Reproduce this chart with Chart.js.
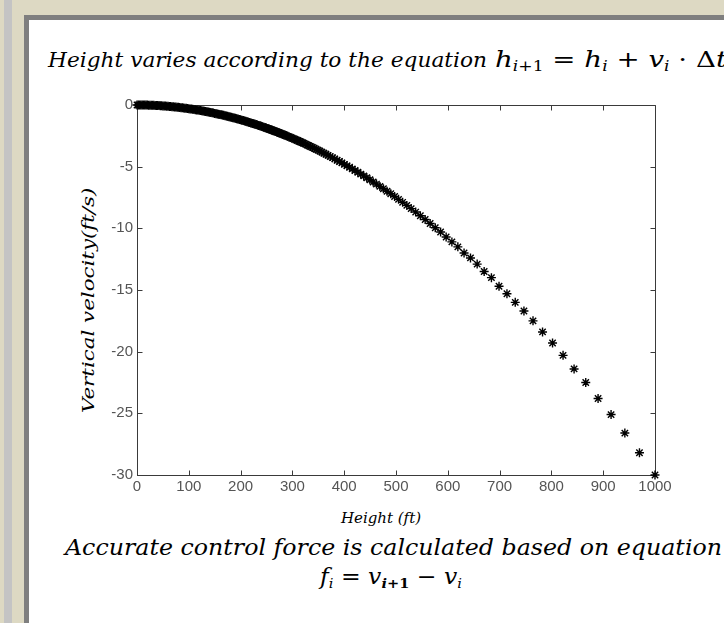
<!DOCTYPE html>
<html>
<head>
<meta charset="utf-8">
<script src="https://cdn.jsdelivr.net/npm/chart.js@4.4.1/dist/chart.umd.min.js"></script>
<style>
  html, body { margin: 0; padding: 0; }
  body { width: 724px; height: 623px; overflow: hidden; position: relative; background: #ddd9c3; font-family: "DejaVu Serif", "Liberation Serif", serif; }
  .strip { position: absolute; left: 4px; top: 0; width: 8px; height: 623px; background: #c4c4c4; }
  .panel { position: absolute; left: 24px; top: 15px; width: 720px; height: 640px; background: #fff; border: 5px solid #7f7f7f; }
  .txt { position: absolute; white-space: nowrap; font-style: italic; color: #000; line-height: 1; transform-origin: 0 0; }
  .eq { font-style: normal; }
  .eq i { font-style: italic; }
  .eq sub { font-size: 0.62em; vertical-align: -0.3em; line-height: 0; }
  canvas { position: absolute; left: 0; top: 0; }
</style>
</head>
<body>
<div class="strip"></div>
<div class="panel"></div>

<div class="txt" id="title" style="left:48px;top:50px;font-size:21px" data-w="439">Height varies according to the equation</div>
<div class="txt eq" id="eq1" style="left:495px;top:48px;font-size:23px" data-w="232"><i>h</i><sub><i>i</i>+1</sub> = <i>h</i><sub><i>i</i></sub> + <i>v</i><sub><i>i</i></sub> · Δ<i>t</i></div>
<div class="txt" id="yl" style="font-size:17px">Vertical velocity(ft/s)</div>
<div class="txt" id="xl" style="left:341px;top:511px;font-size:14px" data-w="80">Height (ft)</div>
<div class="txt" id="bottom" style="left:65px;top:536px;font-size:23px" data-w="657">Accurate control force is calculated based on equation</div>
<div class="txt eq" id="eq2" style="left:320px;top:566px;font-size:22px" data-w="142"><i>f</i><sub><i>i</i></sub> = <i>v</i><sub><b><i>i</i>+1</b></sub> − <i>v</i><sub><i>i</i></sub></div>

<canvas id="chart" width="724" height="623"></canvas>

<script>
// height (ft) of each sample, read right to left off the plot
const heights = [
  1000, 970, 941.8, 915.2, 890.1, 866.3, 843.8, 822.5, 802.2, 782.9,
  764.5, 747.0, 730.2, 714.2, 698.9, 684.2, 670.2, 656.7, 643.8, 631.4,
  619.4, 607.9, 596.8, 586.1, 575.8, 565.9, 556.3, 547.0, 538.0, 529.3,
  520.9, 512.8, 504.9, 497.3, 489.9, 482.7, 475.7, 468.9, 462.3, 455.9,
  449.6, 443.6, 437.7, 431.9, 426.3, 420.9, 415.6, 410.4, 405.3, 400.4,
  395.6, 390.9, 386.3, 381.8, 377.4, 373.1, 368.9, 364.8, 360.8, 356.9,
  353.1, 349.4, 345.7, 342.1, 338.6, 335.2, 331.8, 328.5, 325.3, 322.1,
  319.0, 316.0, 313.0, 310.1, 307.2, 304.4, 301.6, 298.9, 296.2, 293.6,
  291.0, 288.5, 286.0, 283.5, 281.1, 278.7, 276.4, 274.1, 271.9, 269.7,
  267.5, 265.4, 263.3, 261.2, 259.2, 257.2, 255.2, 253.3, 251.4, 249.5,
  247.5, 245, 242.5, 240, 237.5, 235, 232.5, 230, 227.5, 225,
  222.5, 220, 217.5, 215, 212.5, 210, 207.5, 205, 202.5, 200,
  197.5, 195, 192.5, 190, 187.5, 185, 182.5, 180, 177.5, 175,
  172.5, 170, 167.5, 165, 162.5, 160, 157.5, 155, 152.5, 150,
  147.5, 145, 142.5, 140, 137.5, 135, 132.5, 130, 127.5, 125,
  122.5, 120, 117.5, 115, 112.5, 110, 107.5, 105, 102.5, 100,
  97.5, 95, 92.5, 90, 87.5, 85, 82.5, 80, 77.5, 75,
  72.5, 70, 67.5, 65, 62.5, 60, 57.5, 55, 52.5, 50,
  47.5, 45, 42.5, 40, 37.5, 35, 32.5, 30, 27.5, 25,
  22.5, 20, 17.5, 15, 12.5, 10, 7.5, 5, 2.5, 0
];
// vertical velocity (ft/s) at each of those heights
const velocities = [
  -30.0, -28.2, -26.6, -25.1, -23.8, -22.5, -21.4, -20.3, -19.3, -18.4,
  -17.5, -16.7, -16.0, -15.3, -14.7, -14.0, -13.5, -12.9, -12.4, -12.0,
  -11.5, -11.1, -10.7, -10.3, -9.95, -9.61, -9.28, -8.98, -8.68, -8.40,
  -8.14, -7.89, -7.65, -7.42, -7.20, -6.99, -6.79, -6.60, -6.41, -6.24,
  -6.06, -5.90, -5.75, -5.60, -5.45, -5.31, -5.18, -5.05, -4.93, -4.81,
  -4.69, -4.58, -4.48, -4.37, -4.27, -4.18, -4.08, -3.99, -3.91, -3.82,
  -3.74, -3.66, -3.59, -3.51, -3.44, -3.37, -3.30, -3.24, -3.17, -3.11,
  -3.05, -3.00, -2.94, -2.88, -2.83, -2.78, -2.73, -2.68, -2.63, -2.59,
  -2.54, -2.50, -2.45, -2.41, -2.37, -2.33, -2.29, -2.25, -2.22, -2.18,
  -2.15, -2.11, -2.08, -2.05, -2.02, -1.98, -1.95, -1.92, -1.90, -1.87,
  -1.84, -1.80, -1.76, -1.73, -1.69, -1.66, -1.62, -1.59, -1.55, -1.52,
  -1.49, -1.45, -1.42, -1.39, -1.35, -1.32, -1.29, -1.26, -1.23, -1.20,
  -1.17, -1.14, -1.11, -1.08, -1.05, -1.03, -1.00, -0.97, -0.95, -0.92,
  -0.89, -0.87, -0.84, -0.82, -0.79, -0.77, -0.74, -0.72, -0.70, -0.68,
  -0.65, -0.63, -0.61, -0.59, -0.57, -0.55, -0.53, -0.51, -0.49, -0.47,
  -0.45, -0.43, -0.41, -0.40, -0.38, -0.36, -0.35, -0.33, -0.32, -0.30,
  -0.29, -0.27, -0.26, -0.24, -0.23, -0.22, -0.20, -0.19, -0.18, -0.17,
  -0.16, -0.15, -0.14, -0.13, -0.12, -0.11, -0.10, -0.09, -0.08, -0.08,
  -0.07, -0.06, -0.05, -0.05, -0.04, -0.04, -0.03, -0.03, -0.02, -0.02,
  -0.02, -0.01, -0.01, -0.01, 0, 0, 0, 0, 0, 0
];
const xTicks = [0, 100, 200, 300, 400, 500, 600, 700, 800, 900, 1000];
const yTicks = [0, -5, -10, -15, -20, -25, -30];

/* ================= TEXT FITTING ================= */
document.querySelectorAll('[data-w]').forEach(el => {
  const w = el.getBoundingClientRect().width;
  el.style.transform = 'scaleX(' + (parseFloat(el.dataset.w) / w) + ')';
});
const yl = document.getElementById('yl');
const ylw = yl.offsetWidth, ylh = yl.offsetHeight;
const ylk = 225 / ylw;
yl.style.left = (88 - ylh / 2) + 'px';
yl.style.top = (300 + ylw * ylk / 2) + 'px';
yl.style.transform = 'rotate(-90deg) scaleX(' + ylk + ')';

/* ================= BOX + INWARD TICKS ================= */
const boxTicks = {
  id: 'boxTicks',
  beforeDatasetsDraw(chart) {
    const { ctx, chartArea: a, scales: { x, y } } = chart;
    const L = Math.round(a.left) + 0.5, R = Math.round(a.right) + 0.5;
    const T = Math.round(a.top) + 0.5, B = Math.round(a.bottom) + 0.5;
    ctx.save();
    ctx.strokeStyle = '#3a3a3a';
    ctx.lineWidth = 1;
    ctx.beginPath();
    ctx.moveTo(L, T); ctx.lineTo(R, T); ctx.lineTo(R, B);
    x.ticks.forEach(t => {
      const px = Math.round(x.getPixelForValue(t.value)) + 0.5;
      ctx.moveTo(px, B); ctx.lineTo(px, B - 5);
      ctx.moveTo(px, T); ctx.lineTo(px, T + 5);
    });
    y.ticks.forEach(t => {
      const py = Math.round(y.getPixelForValue(t.value)) + 0.5;
      ctx.moveTo(L, py); ctx.lineTo(L + 5, py);
      ctx.moveTo(R, py); ctx.lineTo(R - 5, py);
    });
    ctx.stroke();
    ctx.restore();
  }
};

/* ================= CHART ================= */
const tickFont = { family: '"Liberation Sans Narrow", "Liberation Sans", Arial, sans-serif', size: 15 };

new Chart(document.getElementById('chart'), {
  type: 'scatter',
  data: {
    datasets: [{
      data: heights.map((h, i) => ({ x: h, y: velocities[i] })),
      pointStyle: 'star',
      pointRadius: 4.5,
      pointHoverRadius: 4.5,
      borderColor: '#000',
      backgroundColor: '#000',
      borderWidth: 1.4,
      showLine: false,
      clip: false
    }]
  },
  options: {
    responsive: false,
    animation: false,
    layout: { padding: { left: 70, top: 105, right: 69, bottom: 88 } },
    plugins: { legend: { display: false }, tooltip: { enabled: false } },
    scales: {
      x: {
        type: 'linear',
        min: 0,
        max: 1000,
        afterFit: s => { s.height = 60; },
        afterBuildTicks: s => { s.ticks = xTicks.map(v => ({ value: v })); },
        ticks: { color: '#555', font: tickFont, padding: 3, maxRotation: 0, callback: v => String(v) },
        grid: { display: false, drawTicks: false },
        border: { display: true, color: '#3a3a3a', width: 1 }
      },
      y: {
        type: 'linear',
        min: -30,
        max: 0,
        afterFit: s => { s.width = 67; },
        afterBuildTicks: s => { s.ticks = yTicks.map(v => ({ value: v })); },
        ticks: { color: '#555', font: tickFont, padding: 4, callback: v => String(v) },
        grid: { display: false, drawTicks: false },
        border: { display: true, color: '#3a3a3a', width: 1 }
      }
    }
  },
  plugins: [boxTicks]
});
</script>
</body>
</html>
